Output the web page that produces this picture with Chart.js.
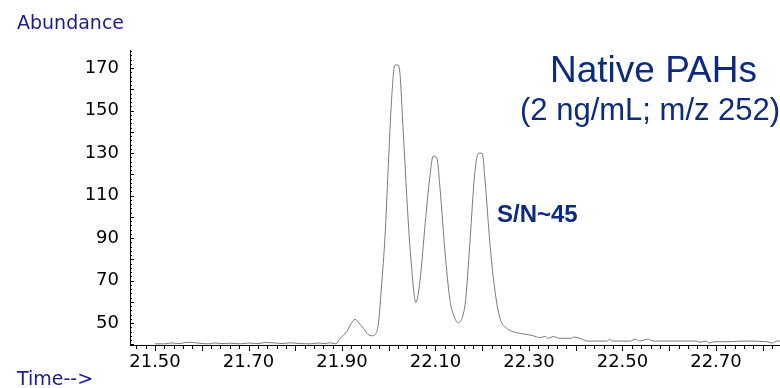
<!DOCTYPE html>
<html><head><meta charset="utf-8">
<script src="https://cdn.jsdelivr.net/npm/chart.js@4.4.0/dist/chart.umd.min.js"></script>
<style>html,body{margin:0;padding:0;background:#fff}canvas{display:block}</style>
</head><body>
<canvas id="c" width="780" height="388" style="width:780px;height:388px"></canvas>
<script>
// Retention time (min)
const times = [
  21.500,21.521,21.536,21.553,21.564,21.579,21.596,21.618,21.628,21.643,21.660,21.682,21.703,21.720,21.735,21.757,21.772,21.789,21.810,21.832,21.849,21.864,21.874,21.887,
  21.896,21.910,21.919,21.928,21.936,21.946,21.956,21.964,21.971,21.978,21.985,21.992,21.999,22.006,22.013,22.020,22.024,22.031,22.039,22.044,22.049,22.054,22.058,
  22.067,22.078,22.088,22.095,22.103,22.110,22.120,22.131,22.140,22.149,22.160,22.165,22.174,22.184,22.192,22.200,22.206,22.217,22.227,22.238,
  22.252,22.266,22.288,22.309,22.324,22.334,22.341,22.352,22.366,22.391,22.396,22.409,22.424,22.467,22.472,22.478,22.517,22.527,22.537,22.555,22.566,
  22.659,22.666,22.677,22.687,22.696,22.730,22.758,22.809,22.820,22.831,22.837
];
// Abundance
const abundance = [
  40.2,40.2,40.6,40.3,40.8,40.9,40.4,40.2,40.6,40.3,40.5,40.2,40.6,40.3,40.8,40.6,40.3,40.7,40.3,40.2,40.6,40.3,40.7,40.2,
  42.8,45.9,49.5,51.7,50.0,47.5,44.6,44.0,44.6,49.9,68.7,90.6,123.5,154.9,171.4,171.4,167.5,140.0,108.0,90.0,76.0,64.0,59.6,
  70.2,96.9,118.8,128.6,127.5,112.6,84.4,60.8,53.0,50.1,54.6,62.0,89.1,120.4,129.9,129.9,117.3,85.9,65.5,52.2,
  47.6,45.9,44.9,44.0,43.1,43.7,42.8,43.6,42.8,42.8,43.4,42.8,41.5,41.5,42.4,41.5,41.5,42.4,41.5,42.4,41.5,
  41.5,40.9,41.5,40.6,41.2,41.2,41.5,41.2,40.6,41.5,41.5
];
const xTickLabels = ['21.50','21.70','21.90','22.10','22.30','22.50','22.70'];
const yTickLabels = ['50','70','90','110','130','150','170'];

const FONT = '"Liberation Sans", Arial, Helvetica, sans-serif';
const AXFONT = '"DejaVu Sans", Verdana, sans-serif';

const minorTicks = {
  id: 'minorTicks',
  afterDraw(chart) {
    const {ctx, scales: {x, y}, chartArea: a} = chart;
    ctx.save();
    ctx.strokeStyle = '#000';
    ctx.lineWidth = 1;
    ctx.beginPath();
    for (let i = Math.ceil(x.min / 0.02); i * 0.02 <= x.max + 1e-9; i++) {
      const px = Math.round(x.getPixelForValue(i * 0.02)) + 0.5;
      const long = i % 5 === 0;
      ctx.moveTo(px, a.bottom);
      ctx.lineTo(px, a.bottom + (long ? 6 : 4));
    }
    for (let j = Math.ceil(y.min / 2); j * 2 <= y.max; j++) {
      const py = Math.round(y.getPixelForValue(j * 2)) + 0.5;
      const long = j % 5 === 0;
      ctx.moveTo(a.left, py);
      ctx.lineTo(a.left + (long ? 4 : 2), py);
    }
    ctx.stroke();
    ctx.restore();
  }
};

const annotations = {
  id: 'annotations',
  afterDraw(chart) {
    const ctx = chart.ctx;
    ctx.save();
    ctx.textBaseline = 'alphabetic';
    ctx.textAlign = 'left';
    ctx.fillStyle = '#1c1c8f';
    ctx.font = '19px ' + AXFONT;
    ctx.fillText('Abundance', 17, 29);
    ctx.fillText('Time-->', 17, 385);
    ctx.fillStyle = '#0c2a7e';
    ctx.font = '37px ' + FONT;
    ctx.fillText('Native PAHs', 550, 82);
    ctx.font = '31px ' + FONT;
    ctx.fillText('(2 ng/mL; m/z 252)', 520, 120);
    ctx.font = 'bold 24px ' + FONT;
    ctx.fillText('S/N~45', 497, 222);
    ctx.restore();
  }
};

new Chart(document.getElementById('c'), {
  type: 'line',
  data: {
    datasets: [{
      data: times.map((t, i) => ({x: t, y: abundance[i]})),
      borderColor: '#7a7a7a',
      borderWidth: 1,
      pointRadius: 0,
      cubicInterpolationMode: 'monotone',
      fill: false
    }]
  },
  options: {
    responsive: false,
    animation: false,
    devicePixelRatio: 1,
    layout: {padding: {top: 50, left: 0, right: 0, bottom: 0}},
    plugins: {legend: {display: false}, tooltip: {enabled: false}, title: {display: false}},
    scales: {
      x: {
        type: 'linear',
        min: 21.4465,
        max: 22.837,
        grid: {display: false, drawTicks: false},
        border: {display: true, color: '#000', width: 1},
        afterBuildTicks(s) { s.ticks = xTickLabels.map(v => ({value: Number(v)})); },
        afterFit(s) { s.height = 43; },
        ticks: {
          autoSkip: false, maxRotation: 0, padding: 7, color: '#000',
          font: {family: AXFONT, size: 18},
          callback: (v) => Number(v).toFixed(2)
        }
      },
      y: {
        type: 'linear',
        min: 39.65,
        max: 178.5,
        grid: {display: false, drawTicks: false},
        border: {display: true, color: '#000', width: 1},
        afterBuildTicks(s) { s.ticks = yTickLabels.map(v => ({value: Number(v)})); },
        afterFit(s) { s.width = 130; },
        ticks: {
          autoSkip: false, padding: 11, color: '#000',
          font: {family: AXFONT, size: 18},
          callback: (v) => String(v)
        }
      }
    }
  },
  plugins: [minorTicks, annotations]
});
</script>
</body></html>
